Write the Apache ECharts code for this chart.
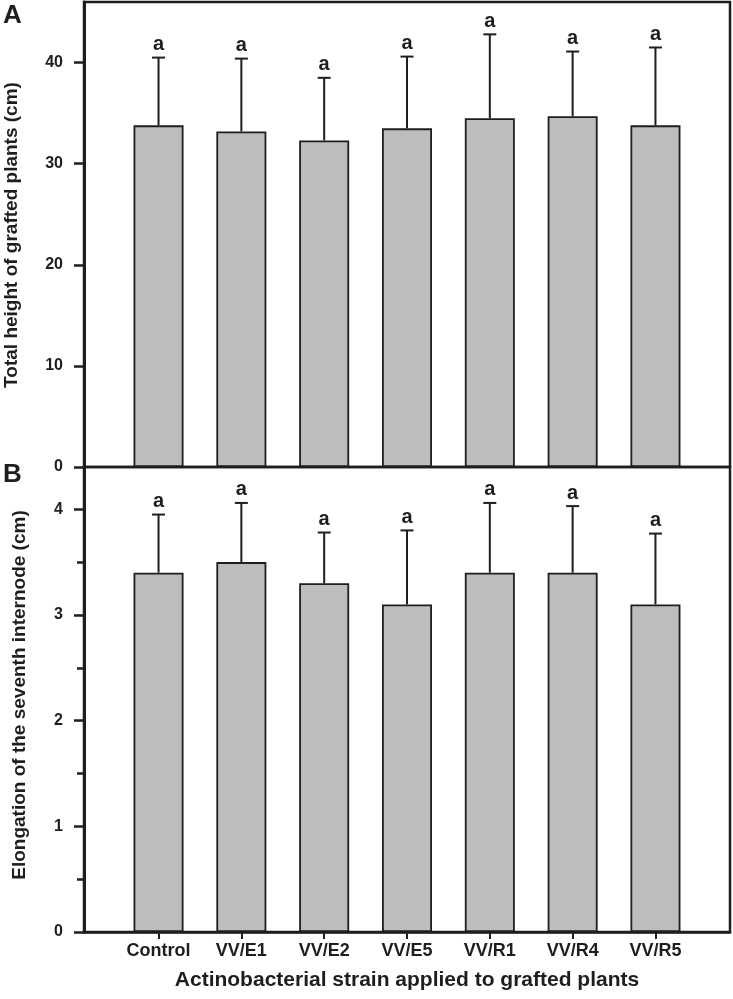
<!DOCTYPE html>
<html>
<head>
<meta charset="utf-8">
<script src="https://cdn.jsdelivr.net/npm/echarts@6/dist/echarts.min.js"></script>
<style>
html,body{margin:0;padding:0;background:#fff;}
#chart{width:733px;height:999px;}
</style>
</head>
<body>
<div id="chart"></div>
<script>
const categories = ['Control', 'VV/E1', 'VV/E2', 'VV/E5', 'VV/R1', 'VV/R4', 'VV/R5'];
const heightMean = [33.8, 33.2, 32.3, 33.5, 34.5, 34.7, 33.8];
const heightSD = [6.7, 7.2, 6.2, 7.1, 8.3, 6.4, 7.7];
const elongMean = [3.4, 3.5, 3.3, 3.1, 3.4, 3.4, 3.1];
const elongSD = [0.55, 0.56, 0.48, 0.70, 0.66, 0.63, 0.67];
const heightLetters = ['a', 'a', 'a', 'a', 'a', 'a', 'a'];
const elongLetters = ['a', 'a', 'a', 'a', 'a', 'a', 'a'];
const heightTicks = [0, 10, 20, 30, 40];
const elongTicks = [0, 1, 2, 3, 4];
const elongMinorTicks = [0.5, 1.5, 2.5, 3.5];
const catPositions = [0, 1, 2, 3, 4, 5, 6];

const FONT = "'Liberation Sans', Arial, Helvetica, sans-serif";
const INK = '#1e1e1e';

function errorSeries(gridIdx, means, sds, letters) {
  return {
    type: 'custom',
    xAxisIndex: gridIdx,
    yAxisIndex: gridIdx === 0 ? 0 : 1,
    data: means.map((m, i) => [i, m, m + sds[i]]),
    z: 5,
    renderItem: function (params, api) {
      const x = api.value(0);
      const base = api.coord([x, api.value(1)]);
      const top = api.coord([x, api.value(2)]);
      const letter = letters[params.dataIndex];
      return {
        type: 'group',
        children: [
          { type: 'line', shape: { x1: base[0], y1: base[1], x2: top[0], y2: top[1] },
            style: { stroke: INK, lineWidth: 2 } },
          { type: 'line', shape: { x1: top[0] - 6.5, y1: top[1], x2: top[0] + 6.5, y2: top[1] },
            style: { stroke: INK, lineWidth: 2 } },
          { type: 'text', x: top[0], y: top[1] - 3,
            style: { text: letter, fill: INK, font: 'bold 20px ' + FONT, align: 'center', verticalAlign: 'bottom' } }
        ]
      };
    }
  };
}

const chart = echarts.init(document.getElementById('chart'), null, { renderer: 'canvas' });
const option = {
  animation: false,
  backgroundColor: '#fff',
  grid: [
    { left: 84, right: 3, top: 2, height: 465, show: true, borderColor: INK, borderWidth: 2.5, backgroundColor: 'transparent', containLabel: false },
    { left: 84, right: 3, top: 467, height: 465, show: true, borderColor: INK, borderWidth: 2.5, backgroundColor: 'transparent', containLabel: false }
  ],
  xAxis: [
    { type: 'value', gridIndex: 0, min: -0.9, max: 6.9,
      axisLine: { show: false, onZero: false }, axisTick: { show: false }, axisLabel: { show: false }, splitLine: { show: false } },
    { type: 'value', gridIndex: 1, min: -0.9, max: 6.9,
      axisLine: { show: true, onZero: false, lineStyle: { color: INK, width: 2.5 } },
      axisTick: { show: true, customValues: catPositions, length: 7, lineStyle: { color: INK, width: 2 } },
      axisLabel: { show: true, customValues: catPositions, margin: 10,
        formatter: v => categories[Math.round(v)] || '',
        color: INK, fontFamily: FONT, fontWeight: 'bold', fontSize: 18 },
      splitLine: { show: false } }
  ],
  yAxis: [
    { type: 'value', gridIndex: 0, min: 0, max: 46,
      axisLine: { show: true, onZero: false, lineStyle: { color: INK, width: 3 } },
      axisTick: { show: true, customValues: heightTicks, length: 10, lineStyle: { color: INK, width: 2.5 } },
      axisLabel: { show: true, customValues: heightTicks, margin: 21, color: INK, fontFamily: FONT, fontWeight: 'bold', fontSize: 16 },
      splitLine: { show: false } },
    { type: 'value', gridIndex: 1, min: 0, max: 4.4,
      axisLine: { show: true, onZero: false, lineStyle: { color: INK, width: 3 } },
      axisTick: { show: true, customValues: elongTicks, length: 10, lineStyle: { color: INK, width: 2.5 } },
      axisLabel: { show: true, customValues: elongTicks, margin: 21, color: INK, fontFamily: FONT, fontWeight: 'bold', fontSize: 16 },
      splitLine: { show: false } },
    { type: 'value', gridIndex: 1, min: 0, max: 4.4, position: 'left',
      axisLine: { show: false, onZero: false },
      axisTick: { show: true, customValues: elongMinorTicks, length: 7, lineStyle: { color: INK, width: 2.5 } },
      axisLabel: { show: false },
      splitLine: { show: false } }
  ],
  series: [
    { type: 'bar', xAxisIndex: 0, yAxisIndex: 0, barWidth: 50,
      data: heightMean.map((v, i) => [i, v]),
      itemStyle: { color: '#bdbdbd', borderColor: INK, borderWidth: 1.8 } },
    errorSeries(0, heightMean, heightSD, heightLetters),
    { type: 'bar', xAxisIndex: 1, yAxisIndex: 1, barWidth: 50,
      data: elongMean.map((v, i) => [i, v]),
      itemStyle: { color: '#bdbdbd', borderColor: INK, borderWidth: 1.8 } },
    errorSeries(1, elongMean, elongSD, elongLetters)
  ],
  graphic: [
    { type: 'text', left: 3, top: 3, style: { text: 'A', fill: INK, font: 'bold 26px ' + FONT } },
    { type: 'text', left: 3, top: 462, style: { text: 'B', fill: INK, font: 'bold 26px ' + FONT } },
    { type: 'text', x: 12, y: 235, rotation: Math.PI / 2,
      style: { text: 'Total height of grafted plants (cm)', fill: INK, font: 'bold 19px ' + FONT, align: 'center', verticalAlign: 'middle' } },
    { type: 'text', x: 20, y: 695, rotation: Math.PI / 2,
      style: { text: 'Elongation of the seventh internode (cm)', fill: INK, font: 'bold 19px ' + FONT, align: 'center', verticalAlign: 'middle' } },
    { type: 'text', x: 407, y: 980,
      style: { text: 'Actinobacterial strain applied to grafted plants', fill: INK, font: 'bold 21px ' + FONT, align: 'center', verticalAlign: 'middle' } }
  ]
};
chart.setOption(option);
</script>
</body>
</html>
